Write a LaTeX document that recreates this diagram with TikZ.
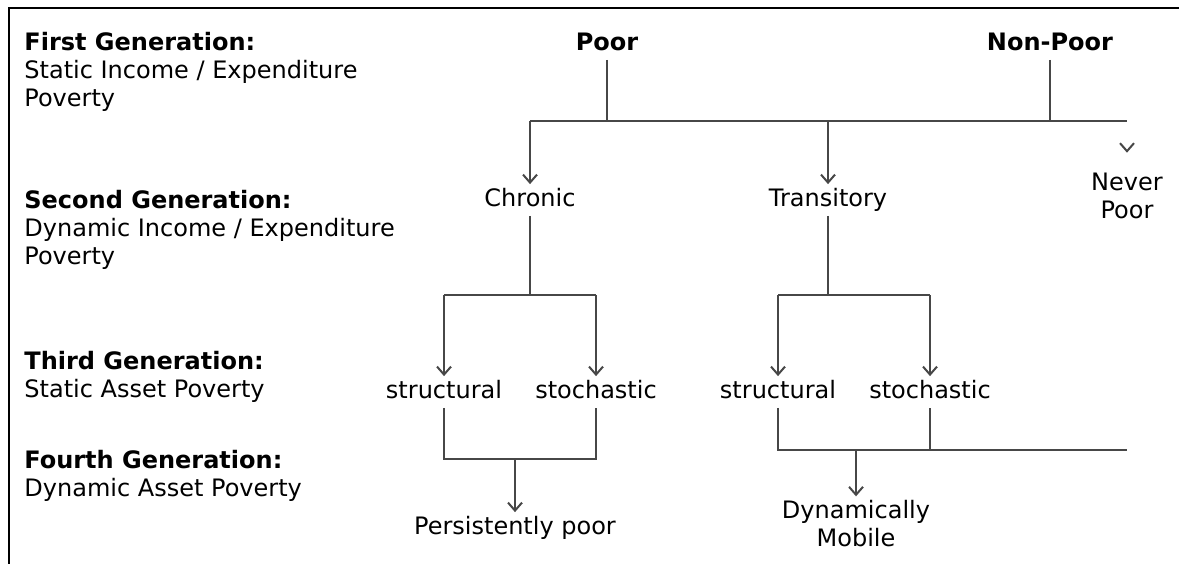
\documentclass[tikz,border=0pt]{standalone}
\usepackage{fontspec}
\setmainfont{DejaVu Sans}
\usetikzlibrary{arrows.meta,positioning}
\tikzset{>={Straight Barb[length=4pt,width=7pt]}}
\tikzset{
  gen/.style={anchor=west,align=left,inner sep=0pt,font=\fontsize{12}{14}\selectfont},
  twoline/.style={align=center,inner sep=2pt,font=\fontsize{12}{14}\selectfont},
  cat/.style={twoline,text height=9pt,text depth=2.5pt},
  link/.style={draw=black!72,line width=1pt},
}

\begin{document}
\begin{tikzpicture}[x=0.5pt,y=-0.5pt]
    \useasboundingbox (0,0) rectangle (1179,564);
    \draw[line width=1pt] (1179,8) -- (9,8) -- (9,564);
    % generations
    \node[gen] (first) at (24,72) {\textbf{First Generation:}\\Static Income / Expenditure\\Poverty};
    \node[gen] (second) at (24,230) {\textbf{Second Generation:}\\Dynamic Income / Expenditure\\Poverty};
    \node[gen] (third) at (24,377) {\textbf{Third Generation:}\\Static Asset Poverty};
    \node[gen] (fourth) at (24,476) {\textbf{Fourth Generation:}\\Dynamic Asset Poverty};
    % categories
    \node[cat,font=\fontsize{12}{14}\selectfont\bfseries] (poor) at (607,44) {Poor};
    \node[cat,font=\fontsize{12}{14}\selectfont\bfseries] (nonpoor) at (1050,44) {Non-Poor};
    \node[cat] (chronic) at (530,200) {Chronic};
    \node[cat] (transitory) at (828,200) {Transitory};
    \node[twoline] (never) at (1127,196) {Never\\Poor};
    \node[cat] (struct1) at (444,392) {structural};
    \node[cat] (stoch1) at (596,392) {stochastic};
    \node[cat] (struct2) at (778,392) {structural};
    \node[cat] (stoch2) at (930,392) {stochastic};
    \node[cat] (persist) at (515,528) {Persistently poor};
    \node[twoline] (dynmob) at (856,524) {Dynamically\\Mobile};
    % junctions
    \coordinate (jtop) at (530,121);
    \coordinate (jtopR) at (1127,121);
    \coordinate (jchr) at (530,295);
    \coordinate (jtra) at (828,295);
    \coordinate (jper) at (515,459);
    \coordinate (jdyn) at (856,450);
    \coordinate (jdynR) at (1127,450);
    % first to second
    \draw[link] (poor) -- (poor |- jtop);
    \draw[link] (nonpoor) -- (nonpoor |- jtop);
    \draw[link] (jtop) -- (jtopR);
    \draw[link,->] (jtop) -- (chronic);
    \draw[link,->] (transitory |- jtop) -- (transitory);
    \draw[link,->] ([yshift=9pt]never.north) -- ([yshift=8pt]never.north);
    % second to third
    \draw[link] (chronic) -- (jchr);
    \draw[link] (struct1 |- jchr) -- (stoch1 |- jchr);
    \draw[link,->] (struct1 |- jchr) -- (struct1);
    \draw[link,->] (stoch1 |- jchr) -- (stoch1);
    \draw[link] (transitory) -- (jtra);
    \draw[link] (struct2 |- jtra) -- (stoch2 |- jtra);
    \draw[link,->] (struct2 |- jtra) -- (struct2);
    \draw[link,->] (stoch2 |- jtra) -- (stoch2);
    % third to fourth
    \draw[link] (struct1) -- (struct1 |- jper) -- (stoch1 |- jper) -- (stoch1);
    \draw[link,->] (jper) -- (persist);
    \draw[link] (struct2) -- (struct2 |- jdyn) -- (stoch2 |- jdyn) -- (stoch2);
    \draw[link] (stoch2 |- jdyn) -- (jdynR);
    \draw[link,->] (jdyn) -- (dynmob);
\end{tikzpicture}
\end{document}
